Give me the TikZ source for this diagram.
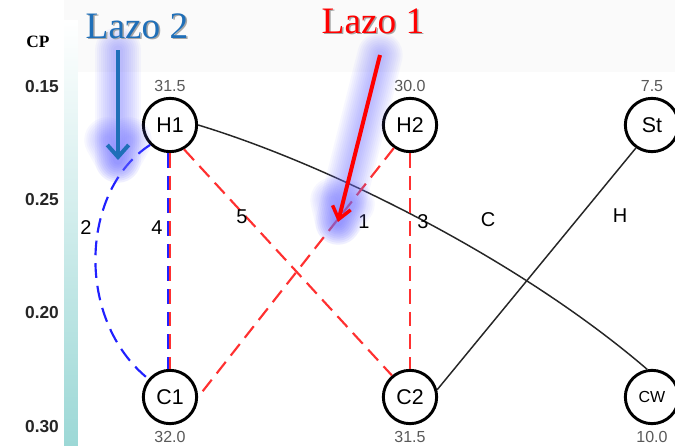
\documentclass[tikz,border=0pt]{standalone}
\usepackage{fontspec}
\setmainfont{Liberation Sans}
\newfontfamily\serifx{Liberation Serif}
\usetikzlibrary{arrows.meta}
\definecolor{teal1}{HTML}{9CD8D6}
\definecolor{lazoblue}{HTML}{1F6FB8}
\definecolor{glow}{HTML}{7070FF}
\definecolor{dred}{HTML}{FF3030}
\definecolor{dblue}{HTML}{2020FF}
\tikzset{
  hx/.style={circle,draw=black,line width=2.2pt,minimum size=40pt,inner sep=0pt,font=\fontsize{16}{16}\selectfont,fill=white},
  tval/.style={font=\fontsize{12}{12}\selectfont,text=black!65},
  axl/.style={font=\fontsize{13}{13}\selectfont\bfseries,text=black!85},
  elab/.style={font=\fontsize{15}{15}\selectfont},
  rdash/.style={draw=dred,line width=1.6pt,dash pattern=on 11pt off 6pt},
  bdash/.style={draw=dblue,line width=1.6pt,dash pattern=on 11pt off 6pt},
  solidl/.style={draw=black!85,line width=1.1pt},
  lazo/.style={font=\serifx\fontsize{28}{28}\selectfont},
  glowline/.style={glow,line cap=round,line join=round},
}
\begin{document}
\begin{tikzpicture}[x=0.75pt,y=-0.75pt]
\useasboundingbox (0,0) rectangle (675,446);
% backgrounds
\fill[white] (0,0) rectangle (675,446);
\fill[black!2] (64,0) rectangle (675,72);
\shade[top color=white,bottom color=teal1] (64,20) rectangle (78,446);
\fill[white] (78,72) rectangle (675,446);
% axis
\node[font=\serifx\fontsize{13}{13}\selectfont\bfseries] (cp) at (38,42) {CP};
\node[axl] (a1) at (42,87) {0.15};
\node[axl] (a2) at (42,200) {0.25};
\node[axl] (a3) at (42,313) {0.20};
\node[axl] (a4) at (42,427) {0.30};
% nodes
\node[hx] (H1) at (170,125) {H1};
\node[hx] (H2) at (410,125) {H2};
\node[hx] (St) at (652,125) {St};
\node[hx] (C1) at (170,397) {C1};
\node[hx] (C2) at (410,397) {C2};
\node[hx,font=\fontsize{12}{12}\selectfont] (CW) at (652,397) {CW};
\node[tval] (t1) at (170,86) {31.5};
\node[tval] (t2) at (410,86) {30.0};
\node[tval] (t3) at (652,86) {7.5};
\node[tval] (b1) at (170,437) {32.0};
\node[tval] (b2) at (410,437) {31.5};
\node[tval] (b3) at (652,437) {10.0};
% connectors
\draw[solidl] (H1.east) .. controls (330,165) and (520,260) .. (CW.100);
\draw[solidl] (St.235) -- (C2.15);
\draw[rdash] (H1.south) -- (C1.north);
\draw[bdash] ([xshift=-1.5pt]H1.south) -- ([xshift=-1.5pt]C1.north);
\draw[bdash] (H1.225) .. controls (80,190) and (75,320) .. (C1.140);
\draw[rdash] (H1.300) -- (C2.130);
\draw[rdash] (H2.235) -- (C1.east);
\draw[rdash] (H2.south) -- (C2.north);
% edge labels
\node[elab] (l2) at (86,228) {2};
\node[elab] (l4) at (157,228) {4};
\node[elab] (l5) at (242,217) {5};
\node[elab] (l1) at (364,222) {1};
\node[elab] (l3) at (423,222) {3};
\node[elab] (lC) at (488,220) {C};
\node[elab] (lH) at (620,216) {H};
% glow for arrows
\coordinate (g2s) at (118,50);
\coordinate (g2e) at (118,160);
\coordinate (g1s) at (380,55);
\coordinate (g1e) at (338,222);
\foreach \w in {34,31,28,25,22,19,16,13,10,7}{
  \draw[glowline,opacity=0.055,line width=\w pt] (g2s) -- (g2e);
  \draw[glowline,opacity=0.055,line width=\w pt] (107,140) -- (g2e) -- (129,140);
  \draw[glowline,opacity=0.055,line width=\w pt] (g1s) -- (g1e);
  \draw[glowline,opacity=0.055,line width=\w pt] (333,200) -- (g1e) -- (352,204);
}
% Lazo labels
\node[lazo,text=black!35] (lz2s) at (138.5,27.5) {Lazo 2};
\node[lazo,text=lazoblue] (lz2) at (137,26) {Lazo 2};
\node[lazo,text=black!35] (lz1s) at (374.5,22.5) {Lazo 1};
\node[lazo,text=red] (lz1) at (373,21) {Lazo 1};
\draw[lazoblue,line width=3.5pt,-{Straight Barb[length=9pt,width=16pt,line width=3pt]}] (g2s) -- (g2e);
\draw[red,line width=3pt,-{Straight Barb[length=9pt,width=14pt,line width=2.6pt]}] (g1s) -- (g1e);
\end{tikzpicture}
\end{document}
